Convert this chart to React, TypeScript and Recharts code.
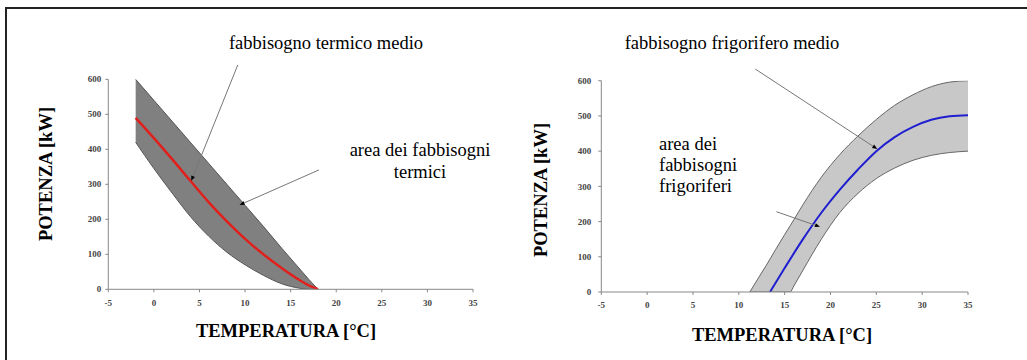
import React from "react";
import { ComposedChart, Area, Line, XAxis, YAxis, ReferenceLine } from "recharts";

// axis ticks shared by both charts
const tempTicks = [-5, 0, 5, 10, 15, 20, 25, 30, 35];
const powerTicks = [0, 100, 200, 300, 400, 500, 600];

// heating demand (left chart)
const heatTemps = [-2, 0, 2, 4, 6, 8, 10, 12, 14, 16, 17, 18];
const heatUpper = [600, 540, 480, 420, 360, 300, 240, 180, 118, 58, 28, 0];
const heatLower = [420, 345, 275, 208, 152, 106, 70, 40, 16, 3, 0, 0];
const heatMean = [490, 432, 372, 310, 249, 194, 144, 100, 61, 26, 11, 0];

// cooling demand (right chart)
const coolBandTemps = [11.2, 12, 13, 14, 15, 15.6, 16, 17, 19, 21, 23, 25, 27, 29, 31, 33, 35];
const coolUpper = [0, 34, 76, 120, 163, 188, 205, 248, 326, 390, 443, 490, 530, 560, 583, 596, 600];
const coolLower = [0, 0, 0, 0, 0, 0, 17, 62, 150, 225, 280, 322, 352, 374, 388, 396, 400];
const coolMeanTemps = [13.4, 15, 17, 19, 21, 23, 25, 27, 29, 31, 33, 35];
const coolMean = [0, 68, 150, 225, 290, 348, 400, 440, 469, 489, 499, 502];

// annotation arrows: [fromTemp, fromPower, toTemp, toPower]
const heatArrows = [
  [9.2, 641, 4.1, 310],
  [18.1, 341, 9.4, 241],
];
const coolArrows = [
  [11.8, 633, 25.1, 406],
  [14.1, 228, 18.85, 185],
];

const heatBand = heatTemps.map((t, i) => ({ t, range: [heatLower[i], heatUpper[i]] }));
const heatLine = heatTemps.map((t, i) => ({ t, p: heatMean[i] }));
const coolBand = coolBandTemps.map((t, i) => ({ t, range: [coolLower[i], coolUpper[i]] }));
const coolLine = coolMeanTemps.map((t, i) => ({ t, p: coolMean[i] }));

const FONT = "'Liberation Serif', 'Times New Roman', serif";
const tickStyle = { fill: "#444", fontSize: 9, fontWeight: "bold" as const, fontFamily: FONT };

const ArrowShape = (props: any) => {
  const { x1, y1, x2, y2 } = props;
  const a = Math.atan2(y2 - y1, x2 - x1);
  const len = 5;
  const w = 2;
  const bx = x2 - len * Math.cos(a);
  const by = y2 - len * Math.sin(a);
  const pts = [
    `${x2},${y2}`,
    `${bx - w * Math.sin(a)},${by + w * Math.cos(a)}`,
    `${bx + w * Math.sin(a)},${by - w * Math.cos(a)}`,
  ].join(" ");
  return (
    <g>
      <line x1={x1} y1={y1} x2={bx} y2={by} stroke="#777" strokeWidth={1} />
      <polygon points={pts} fill="#000" />
    </g>
  );
};

function axes(yTickMargin: number) {
  return [
    <XAxis
      key="x"
      type="number"
      dataKey="t"
      domain={[-5, 35]}
      ticks={tempTicks}
      allowDataOverflow
      height={30}
      tickSize={3}
      tickMargin={7}
      axisLine={{ stroke: "#888" }}
      tickLine={{ stroke: "#888" }}
      tick={tickStyle}
    />,
    <YAxis
      key="y"
      type="number"
      domain={[0, 600]}
      ticks={powerTicks}
      allowDataOverflow
      width={50}
      tickSize={3}
      tickMargin={yTickMargin}
      axisLine={{ stroke: "#888" }}
      tickLine={{ stroke: "#888" }}
      tick={tickStyle}
    />,
  ];
}

export default function App() {
  return (
    <div
      style={{
        position: "absolute",
        left: 0,
        top: 0,
        width: 1027,
        height: 360,
        overflow: "hidden",
        background: "#fff",
        fontFamily: FONT,
      }}
    >
      <div style={{ position: "absolute", left: 0, top: 0 }}>
        <ComposedChart
          width={512}
          height={360}
          margin={{ top: 79.3, right: 39, bottom: 40.7, left: 58.3 }}
        >
          {axes(4)}
          <Area
            data={heatBand}
            dataKey="range"
            type="monotone"
            fill="#808080"
            fillOpacity={1}
            stroke="#555"
            strokeWidth={1}
            isAnimationActive={false}
          />
          <Line
            data={heatLine}
            dataKey="p"
            type="monotone"
            stroke="#e0201c"
            strokeWidth={2.5}
            dot={false}
            isAnimationActive={false}
          />
          {heatArrows.map((a, i) => (
            <ReferenceLine
              key={i}
              segment={[
                { x: a[0], y: a[1] },
                { x: a[2], y: a[3] },
              ]}
              ifOverflow="visible"
              shape={ArrowShape}
            />
          ))}
        </ComposedChart>
      </div>

      <div style={{ position: "absolute", left: 512, top: 0 }}>
        <ComposedChart
          width={515}
          height={360}
          margin={{ top: 80.7, right: 59, bottom: 38, left: 39.3 }}
        >
          {axes(7)}
          <Area
            data={coolBand}
            dataKey="range"
            type="monotone"
            fill="#c8c8c8"
            fillOpacity={1}
            stroke="#666"
            strokeWidth={1}
            isAnimationActive={false}
          />
          <Line
            data={coolLine}
            dataKey="p"
            type="monotone"
            stroke="#1f1fd0"
            strokeWidth={2}
            dot={false}
            isAnimationActive={false}
          />
          {coolArrows.map((a, i) => (
            <ReferenceLine
              key={i}
              segment={[
                { x: a[0], y: a[1] },
                { x: a[2], y: a[3] },
              ]}
              ifOverflow="visible"
              shape={ArrowShape}
            />
          ))}
        </ComposedChart>
      </div>

      <div
        style={{
          position: "absolute",
          left: 5,
          top: 7,
          width: 1100,
          height: 400,
          borderLeft: "2px solid #222",
          borderTop: "2px solid #222",
          pointerEvents: "none",
        }}
      />

      <svg
        width={1027}
        height={360}
        style={{ position: "absolute", left: 0, top: 0, pointerEvents: "none" }}
        fontFamily={FONT}
      >
        <g fontSize={18.5} fill="#000">
          <text x={326} y={49} textAnchor="middle">fabbisogno termico medio</text>
          <text x={420} y={156} textAnchor="middle">area dei fabbisogni</text>
          <text x={420} y={178} textAnchor="middle">termici</text>
          <text x={732} y={49} textAnchor="middle">fabbisogno frigorifero medio</text>
          <text x={659} y={150}>area dei</text>
          <text x={659} y={171}>fabbisogni</text>
          <text x={659} y={192}>frigoriferi</text>
        </g>
        <g fontSize={18.5} fontWeight="bold" fill="#000">
          <text x={286} y={337} textAnchor="middle">TEMPERATURA [°C]</text>
          <text x={782} y={341} textAnchor="middle">TEMPERATURA [°C]</text>
          <text x={52} y={174} textAnchor="middle" transform="rotate(-90 52 174)">POTENZA [kW]</text>
          <text x={547} y={190} textAnchor="middle" transform="rotate(-90 547 190)">POTENZA [kW]</text>
        </g>
      </svg>
    </div>
  );
}
